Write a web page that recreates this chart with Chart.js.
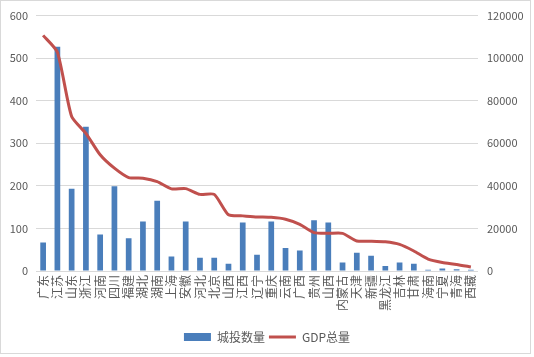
<!DOCTYPE html>
<html>
<head>
<meta charset="utf-8">
<script src="https://cdn.jsdelivr.net/npm/chart.js@4/dist/chart.umd.min.js"></script>
<style>
html,body{margin:0;padding:0;background:#fff;}
#wrap{position:relative;width:534px;height:357px;}
#frame{position:absolute;left:0;top:0;width:529px;height:352px;border:1px solid #d9d9d9;pointer-events:none;}
canvas{position:absolute;left:0;top:0;}
</style>
</head>
<body>
<div id="wrap">
<canvas id="c" width="534" height="357"></canvas>
<div id="frame"></div>
</div>
<script>
const categories = ['广东','江苏','山东','浙江','河南','四川','福建','湖北','湖南','上海','安徽','河北','北京','山西','江西','辽宁','重庆','云南','广西','贵州','山西','内蒙古','天津','新疆','黑龙江','吉林','甘肃','海南','宁夏','青海','西藏'];
const chengtouCount = [67,527,193,339,86,199,77,116,165,34,116,31,31,17,114,38,116,54,48,119,114,20,43,36,12,20,17,3,6,4,3];
const gdpTotal = [110700,102800,72600,64700,54600,48300,43900,43600,42000,38600,38700,36000,36000,26400,25900,25400,25200,24300,21900,18000,17700,17700,14100,14000,13700,12500,9400,5600,4000,3100,1900];
const leftTicks = [0,100,200,300,400,500,600];
const rightTicks = [0,20000,40000,60000,80000,100000,120000];

const FONT = '"Noto Sans CJK SC", "Noto Sans", sans-serif';
const GRAY = '#595959';

new Chart(document.getElementById('c'), {
  data: {
    labels: categories,
    datasets: [
      {
        type: 'line',
        label: 'GDP总量',
        data: gdpTotal,
        yAxisID: 'y1',
        borderColor: '#C0504D',
        backgroundColor: '#C0504D',
        borderWidth: 3,
        pointRadius: 0,
        tension: 0.2,
        pointStyle: 'line',
        order: 0
      },
      {
        type: 'bar',
        label: '城投数量',
        data: chengtouCount,
        yAxisID: 'y',
        backgroundColor: '#4A7EBB',
        borderWidth: 0,
        barPercentage: 0.4,
        categoryPercentage: 1,
        pointStyle: 'rect',
        order: 1
      }
    ]
  },
  options: {
    responsive: false,
    animation: false,
    devicePixelRatio: 1,
    layout: { padding: { top: 15, bottom: 4, left: 0, right: 0 } },
    plugins: {
      tooltip: { enabled: false },
      legend: {
        position: 'bottom',
        reverse: true,
        labels: {
          usePointStyle: true,
          pointStyleWidth: 27,
          boxWidth: 27,
          boxHeight: 8,
          padding: 4,
          color: GRAY,
          font: { family: FONT, size: 12 }
        }
      }
    },
    scales: {
      x: {
        grid: { display: false, drawTicks: false },
        border: { display: false },
        ticks: {
          autoSkip: false,
          maxRotation: 90,
          minRotation: 90,
          padding: 4,
          color: GRAY,
          font: { family: FONT, size: 12 }
        },
        afterFit(s) { s.height = 56; }
      },
      y: {
        position: 'left',
        min: 0, max: 600,
        afterBuildTicks(s) { s.ticks = leftTicks.map(v => ({ value: v })); },
        grid: { color: '#d9d9d9', lineWidth: 1, drawTicks: false },
        border: { display: false },
        ticks: { padding: 8, color: GRAY, font: { family: FONT, size: 11 }, callback: v => String(v) },
        afterFit(s) { s.width = 36; }
      },
      y1: {
        position: 'right',
        min: 0, max: 120000,
        afterBuildTicks(s) { s.ticks = rightTicks.map(v => ({ value: v })); },
        grid: { display: false, drawTicks: false },
        border: { display: false },
        ticks: { padding: 9, color: GRAY, font: { family: FONT, size: 11 }, callback: v => String(v) },
        afterFit(s) { s.width = 56; }
      }
    }
  }
});
</script>
</body>
</html>
